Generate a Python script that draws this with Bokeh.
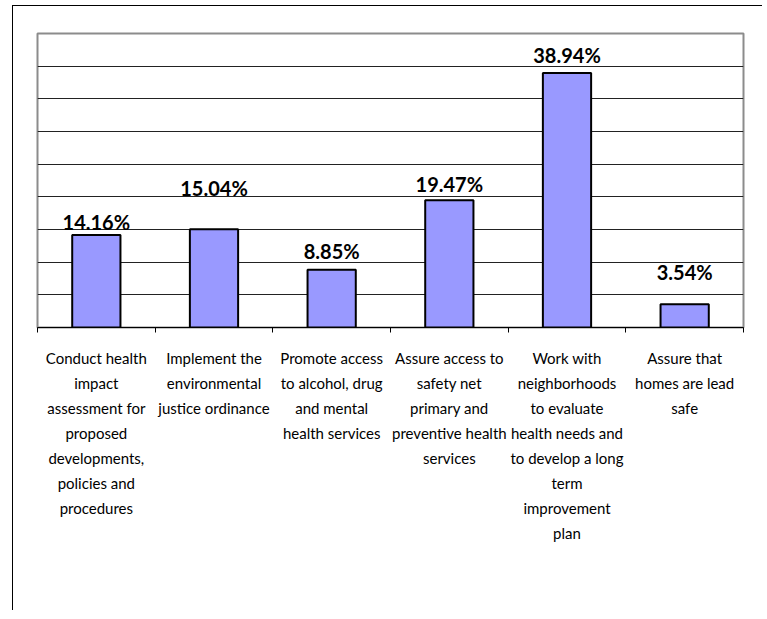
from bokeh.plotting import figure
from bokeh.models import Range1d, FixedTicker, ColumnDataSource
from bokeh.core.properties import value
from bokeh.embed import file_html
from bokeh.resources import INLINE
import numpy as np

categories = [
    "Conduct health\nimpact\nassessment for\nproposed\ndevelopments,\npolicies and\nprocedures",
    "Implement the\nenvironmental\njustice ordinance",
    "Promote access\nto alcohol, drug\nand mental\nhealth services",
    "Assure access to\nsafety net\nprimary and\npreventive health\nservices",
    "Work with\nneighborhoods\nto evaluate\nhealth needs and\nto develop a long\nterm\nimprovement\nplan",
    "Assure that\nhomes are lead\nsafe",
]
values = [14.16, 15.04, 8.85, 19.47, 38.94, 3.54]
# heights (in %) at which the value labels sit, as placed in the original
label_heights = [15.0, 20.2, 10.55, 20.8, 40.55, 7.2]

idx = np.arange(len(categories)) + 0.5
src = ColumnDataSource(dict(
    x=idx, top=values, ly=label_heights,
    txt=["%.2f%%" % v for v in values],
))

p = figure(width=750, height=605, output_backend="svg", toolbar_location=None,
           x_range=Range1d(0, len(categories)), y_range=Range1d(0, 45),
           min_border_left=24, min_border_right=20, min_border_top=27,
           min_border_bottom=284)
p.margin = (5, 0, 0, 12)
p.styles = {"border-left": "1px solid black", "border-top": "1px solid black"}

p.outline_line_color = "#8c8c8c"
p.outline_line_width = 2

p.vbar(x="x", top="top", width=0.41, bottom=0, source=src,
       fill_color="#9999FF", line_color="black", line_width=2)

p.text(x="x", y="ly", text="txt", source=src, text_align="center",
       text_baseline="bottom", y_offset=4, text_font=value("Lato"),
       text_font_style="bold", text_font_size="20px", text_color="black")

p.yaxis.visible = False
p.ygrid.ticker = FixedTicker(ticks=list(range(5, 45, 5)))
p.ygrid.grid_line_color = "#222222"
p.ygrid.grid_line_width = 1
p.xgrid.visible = False

xa = p.xaxis[0]
xa.ticker = FixedTicker(ticks=list(idx), minor_ticks=list(range(len(categories) + 1)))
xa.major_label_overrides = {float(x): c for x, c in zip(idx, categories)}
xa.major_tick_in = 0
xa.major_tick_out = 0
xa.minor_tick_in = 0
xa.minor_tick_out = 5
xa.minor_tick_line_color = "black"
xa.axis_line_color = "black"
xa.axis_line_width = 1
xa.major_label_text_font = "Lato"
xa.major_label_text_font_size = "15px"
xa.major_label_text_line_height = 1.39
xa.major_label_standoff = 16
xa.major_label_text_color = "black"

open("out.html", "w").write(file_html(p, INLINE))
